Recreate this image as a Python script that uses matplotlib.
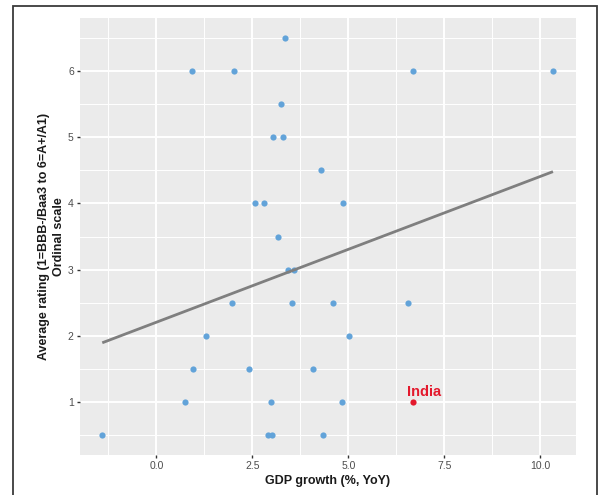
import numpy as np
import matplotlib

matplotlib.use("Agg")
import matplotlib.pyplot as plt
from matplotlib.patches import Rectangle
from matplotlib.ticker import MultipleLocator

plt.rcParams["font.family"] = ["Liberation Sans", "DejaVu Sans"]

# GDP growth (%, YoY) vs average rating (ordinal)
gdp_growth = [3.34, 0.93, 2.03, 6.69, 10.33,
              3.24, 3.05, 3.29, 4.28,
              2.58, 2.81, 4.86, 3.18,
              3.42, 3.58,
              1.97, 3.54, 4.60, 6.56,
              1.29, 5.03,
              0.96, 2.42, 4.07,
              0.75, 2.98, 4.84,
              -1.42, 2.90, 3.00, 4.34]
avg_rating = [6.5, 6, 6, 6, 6,
              5.5, 5, 5, 4.5,
              4, 4, 4, 3.5,
              3, 3,
              2.5, 2.5, 2.5, 2.5,
              2, 2,
              1.5, 1.5, 1.5,
              1, 1, 1,
              0.5, 0.5, 0.5, 0.5]

india_label = "India"
india_gdp = 6.69
india_rating = 1.0

# linear trend line end points
trend_x = [-1.41, 10.33]
trend_y = [1.895, 4.48]

x_major = [0.0, 2.5, 5.0, 7.5, 10.0]
y_major = [1, 2, 3, 4, 5, 6]

fig = plt.figure(figsize=(6.02, 4.95), dpi=100)
ax = fig.add_axes([0.1329, 0.0808, 0.8239, 0.8828])

ax.set_facecolor("#EBEBEB")
for s in ax.spines.values():
    s.set_visible(False)

ax.scatter(gdp_growth, avg_rating, s=20, color="#62a3d9", linewidths=0, zorder=3)
ax.plot(trend_x, trend_y, color="#7f7f7f", lw=2.0, zorder=4, solid_capstyle="butt")
ax.scatter([india_gdp], [india_rating], s=20, color="#e3192d", linewidths=0, zorder=5)
ax.annotate(india_label, (india_gdp, india_rating), xytext=(8, 7),
            textcoords="offset points", ha="center", va="center",
            color="#e3192d", fontsize=10.5, fontweight="bold", zorder=6)

ax.set_xlim(-1.99, 10.93)
ax.set_ylim(0.2, 6.8)
ax.set_xticks(x_major)
ax.set_xticklabels([f"{v:.1f}" for v in x_major])
ax.set_yticks(y_major)
ax.set_yticklabels([str(v) for v in y_major])
ax.xaxis.set_minor_locator(MultipleLocator(1.25))
ax.yaxis.set_minor_locator(MultipleLocator(0.5))
ax.grid(which="major", color="white", lw=1.4)
ax.grid(which="minor", color="white", lw=0.7)
ax.set_axisbelow(True)
ax.tick_params(which="major", length=2.5, width=1.0, color="#333333",
               labelsize=7.5, labelcolor="#4D4D4D", pad=2)
ax.tick_params(which="minor", length=0)

ax.set_xlabel("GDP growth (%, YoY)", fontsize=9, fontweight="bold",
              color="#1a1a1a", labelpad=3)
ax.set_ylabel("Average rating (1=BBB-/Baa3 to 6=A+/A1)\nOrdinal scale",
              fontsize=9, fontweight="bold", color="#1a1a1a", labelpad=2,
              linespacing=1.3)

# frame around the whole figure (open at the bottom)
frame = Rectangle((13 / 602, -0.1), (597 - 13) / 602, 1.1 - 6 / 495,
                  transform=fig.transFigure, fill=False,
                  edgecolor="#3a3a3a", lw=1.3, clip_on=False)
fig.patches.append(frame)

fig.savefig("out.png", dpi=100)
